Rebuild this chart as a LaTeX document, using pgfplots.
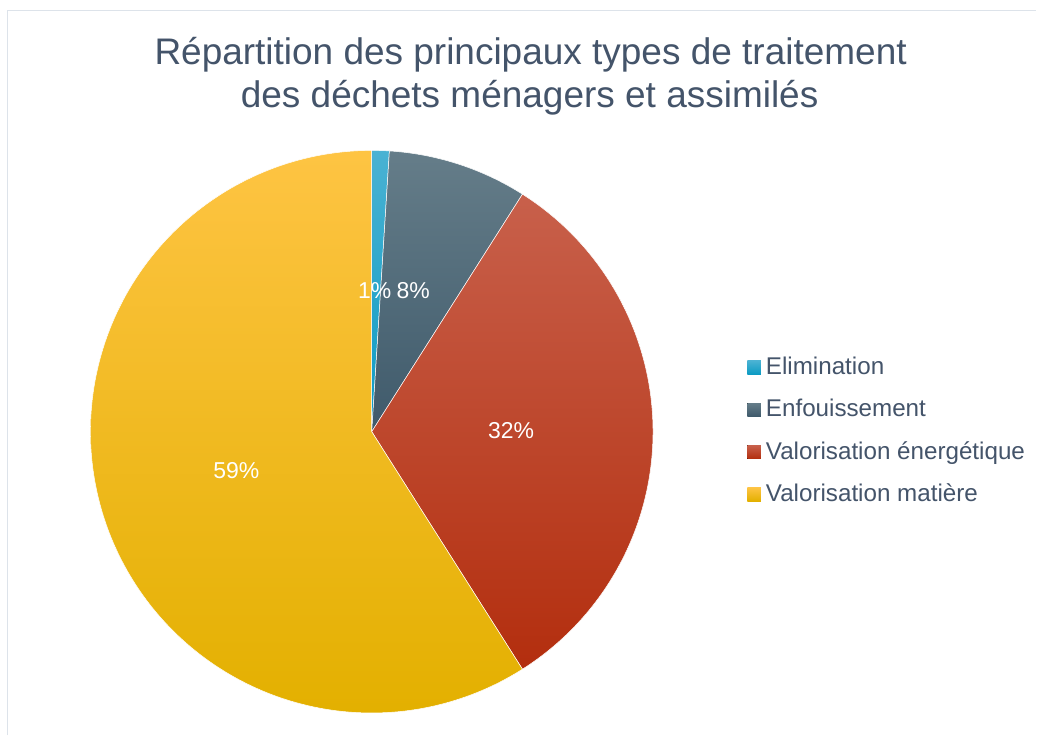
\documentclass[border=0pt]{standalone}
\usepackage{fontspec}
\setmainfont{Liberation Sans}
\usepackage{pgfplots}
\pgfplotsset{compat=1.18}
\usepackage{pgfplotstable}

\definecolor{titlecol}{HTML}{44546A}
\definecolor{framecol}{HTML}{DDE3EA}
\definecolor{elimtop}{HTML}{4AB2D3}
\definecolor{elimbot}{HTML}{0C9BC3}
\definecolor{enftop}{HTML}{657D89}
\definecolor{enfbot}{HTML}{3F5A6B}
\definecolor{entop}{HTML}{C8604B}
\definecolor{enbot}{HTML}{B32E0E}
\definecolor{mattop}{HTML}{FEC443}
\definecolor{matbot}{HTML}{E3B000}

% shares in percent: Elimination, Enfouissement, Valorisation energetique, Valorisation matiere
\pgfplotstableread{
id value
1 1
2 8
3 32
4 59
}\pietable

\begin{document}%
\begin{tikzpicture}
\pgfplotstablegetelem{0}{value}\of\pietable \pgfmathsetmacro\vA{\pgfplotsretval}
\pgfplotstablegetelem{1}{value}\of\pietable \pgfmathsetmacro\vB{\pgfplotsretval}
\pgfplotstablegetelem{2}{value}\of\pietable \pgfmathsetmacro\vC{\pgfplotsretval}
\pgfplotstablegetelem{3}{value}\of\pietable \pgfmathsetmacro\vD{\pgfplotsretval}
\pgfmathsetmacro\aZ{90}
\pgfmathsetmacro\aA{\aZ-3.6*\vA}
\pgfmathsetmacro\aB{\aA-3.6*\vB}
\pgfmathsetmacro\aC{\aB-3.6*\vC}
\pgfmathsetmacro\aD{\aC-3.6*\vD}
\def\cx{372}
\def\cy{304}
\def\rr{281.5}
\begin{axis}[
  scale only axis, width=1037pt, height=736pt,
  xmin=0, xmax=1037, ymin=0, ymax=736, enlargelimits=false,
  hide axis, clip=false,
  legend cell align=left,
  legend image code/.code={\fill[#1, draw=none] (0pt,-5.5pt) rectangle (13.5pt,8pt);},
  legend style={at={(axis cs:748,379)}, anchor=north west,
    draw=none, fill=none, inner sep=0pt, outer sep=0pt,
    font=\fontsize{24.2}{28}\selectfont, text=titlecol,
    row sep=18.3pt, column sep=5pt,
    nodes={inner sep=0pt, text height=18pt, text depth=6pt}},
]
\fill[white] (axis cs:0,0) rectangle (axis cs:1037,736);
\draw[framecol, line width=1.5pt] (axis cs:7.5,0) -- (axis cs:7.5,725.5) -- (axis cs:1037,725.5);

\addplot[shade, top color=elimtop, bottom color=elimbot, draw=white, line width=0.5pt,
  domain=\aA:\aZ, samples=20, variable=\t]
  ({\cx+\rr*cos(\t)},{\cy+\rr*sin(\t)}) -- (axis cs:\cx,\cy) -- cycle;
\addlegendentry{Elimination}
\addplot[shade, top color=enftop, bottom color=enfbot, draw=white, line width=0.5pt,
  domain=\aB:\aA, samples=60, variable=\t]
  ({\cx+\rr*cos(\t)},{\cy+\rr*sin(\t)}) -- (axis cs:\cx,\cy) -- cycle;
\addlegendentry{Enfouissement}
\addplot[shade, top color=entop, bottom color=enbot, draw=white, line width=0.5pt,
  domain=\aC:\aB, samples=120, variable=\t]
  ({\cx+\rr*cos(\t)},{\cy+\rr*sin(\t)}) -- (axis cs:\cx,\cy) -- cycle;
\addlegendentry{Valorisation énergétique}
\addplot[shade, top color=mattop, bottom color=matbot, draw=white, line width=0.5pt,
  domain=\aD:\aC, samples=200, variable=\t]
  ({\cx+\rr*cos(\t)},{\cy+\rr*sin(\t)}) -- (axis cs:\cx,\cy) -- cycle;
\addlegendentry{Valorisation matière}

\node[anchor=base, text=titlecol, font=\fontsize{37}{44}\selectfont] at (axis cs:531,671) {Répartition des principaux types de traitement};
\node[anchor=base, text=titlecol, font=\fontsize{37}{44}\selectfont] at (axis cs:530,628) {des déchets ménagers et assimilés};

\node[text=white, font=\fontsize{23}{27}\selectfont, inner sep=0pt] at (axis cs:375,445) {1\%};
\node[text=white, font=\fontsize{23}{27}\selectfont, inner sep=0pt] at (axis cs:413.5,445) {8\%};
\node[text=white, font=\fontsize{23}{27}\selectfont, inner sep=0pt] at (axis cs:511.5,305.5) {32\%};
\node[text=white, font=\fontsize{23}{27}\selectfont, inner sep=0pt] at (axis cs:236.5,265) {59\%};
\end{axis}
\end{tikzpicture}%
\end{document}
